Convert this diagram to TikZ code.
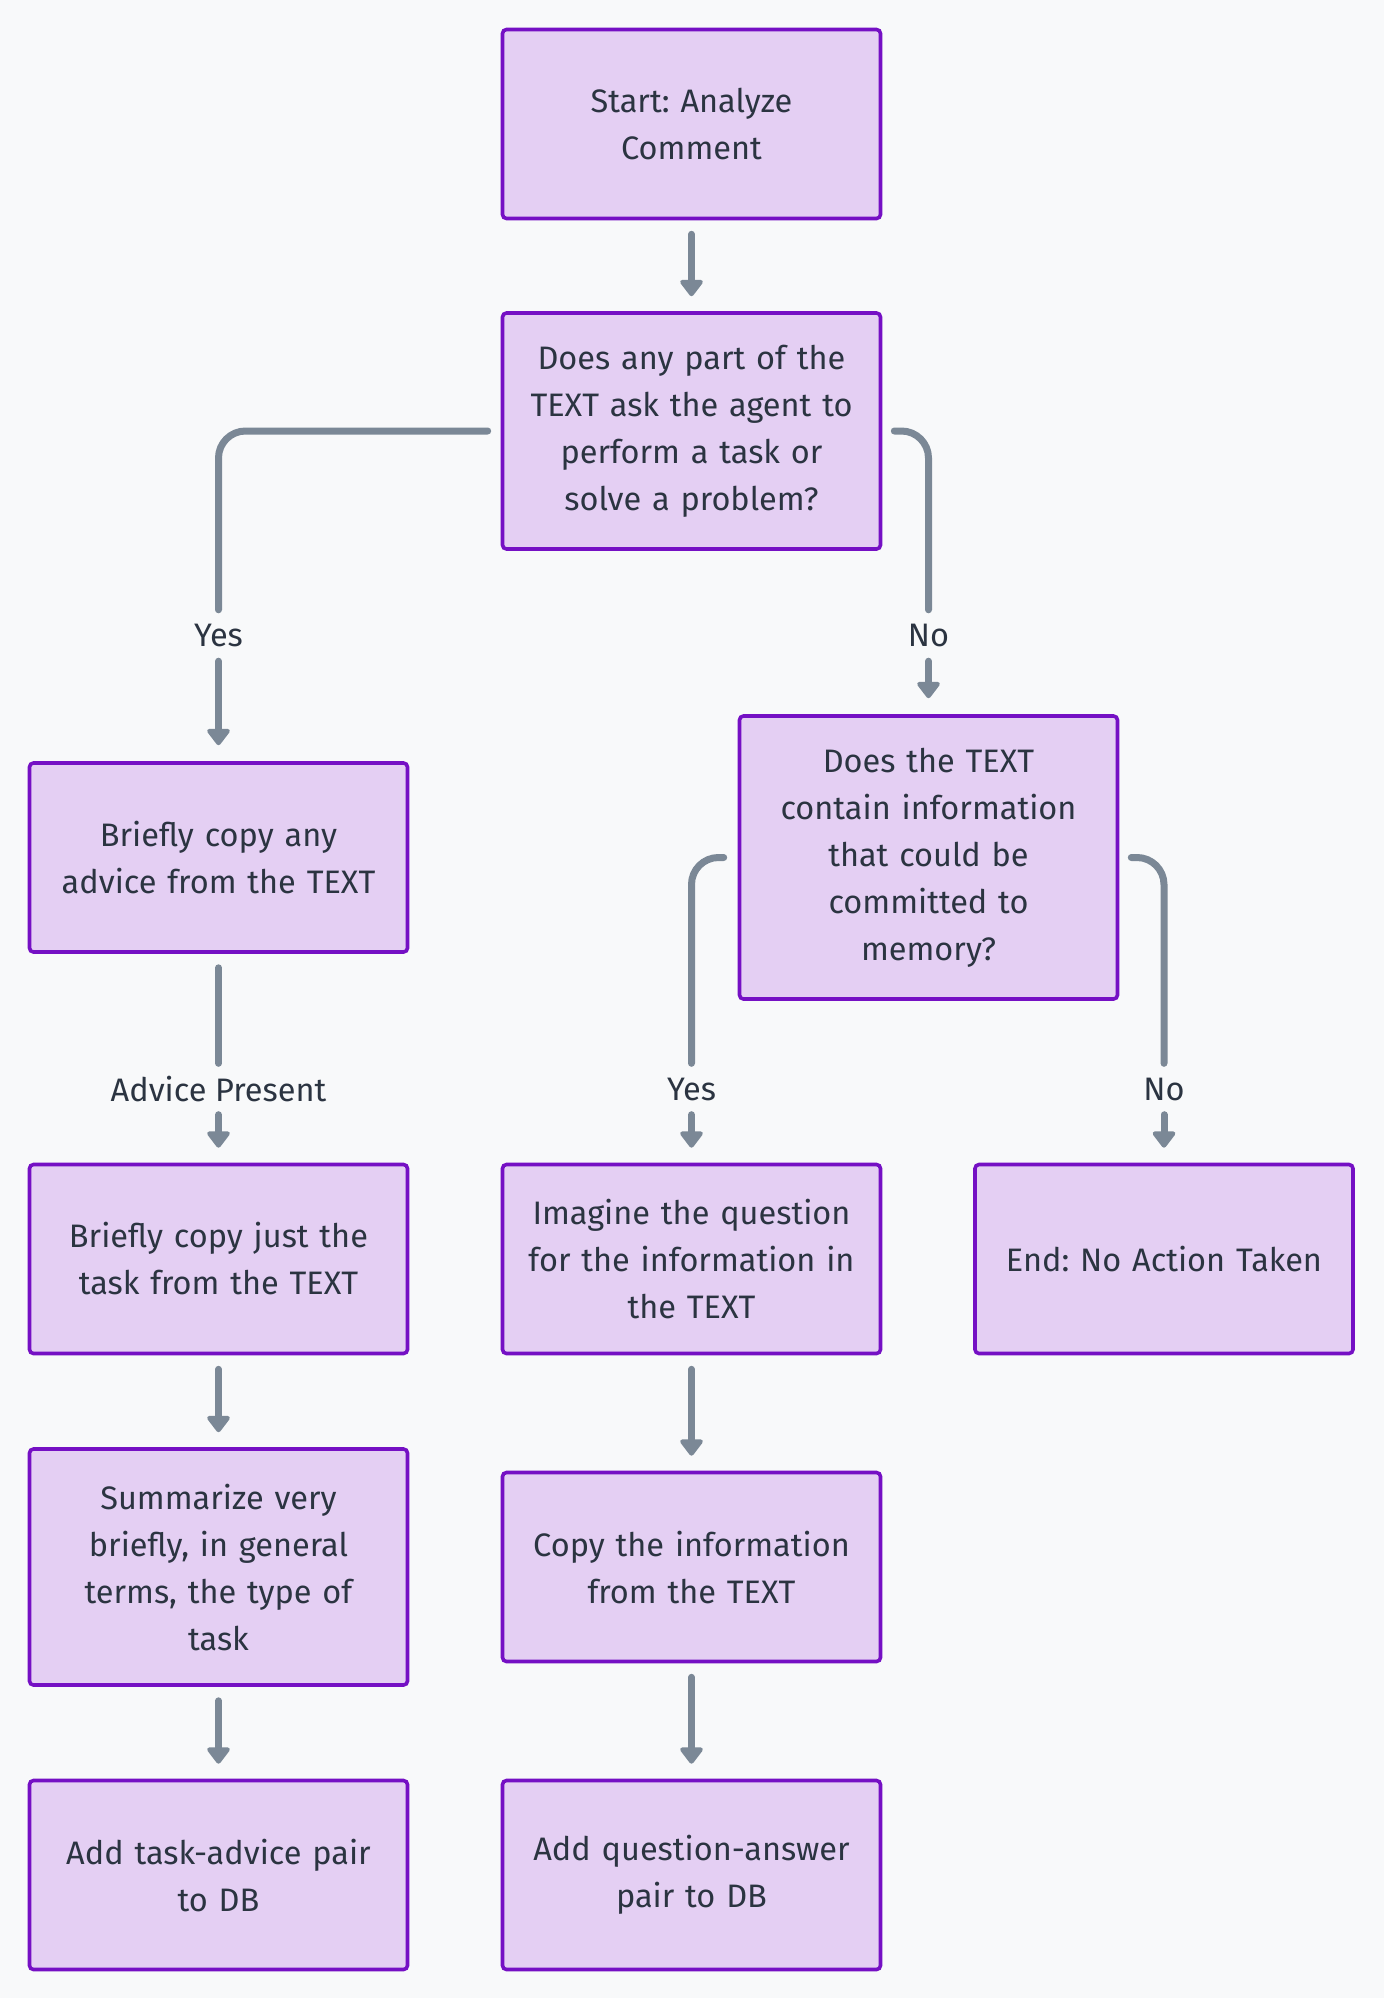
\documentclass[tikz,border=0pt]{standalone}
\usepackage{fontspec}
\setmainfont{Fira Sans}
\usetikzlibrary{arrows.meta}
\frenchspacing
\definecolor{bgc}{HTML}{F8F9FA}
\definecolor{boxf}{HTML}{E4CFF3}
\definecolor{boxd}{HTML}{7510C4}
\definecolor{linec}{HTML}{7B8896}
\definecolor{txtc}{HTML}{2B3441}
\begin{document}
\begin{tikzpicture}[x=1pt,y=-1pt,
  box/.style={draw=boxd, fill=boxf, line width=3.6pt, rounded corners=4pt,
    minimum width=378pt, minimum height=189pt, inner sep=0pt,
    text width=370pt, align=center, text=txtc,
    font=\fontsize{32.5}{47}\selectfont},
  lbl/.style={inner sep=0pt, minimum height=51pt, text=txtc,
    font=\fontsize{32.5}{47}\selectfont},
  conn/.style={draw=linec, line width=7pt, line cap=round, rounded corners=27pt},
  arr/.style={conn, -{Triangle[width=26pt,length=18pt,round]}}]
\fill[bgc] (0,0) rectangle (1384,1998);
\useasboundingbox (0,0) rectangle (1384,1998);

\node[box] (start) at (691.5,124) {Start: Analyze\\Comment};
\node[box, minimum height=236pt] (q1) at (691.5,431) {Does any part of the\\TEXT ask the agent to\\perform a task or\\solve a problem?};
\node[box] (adv) at (218.5,857.5) {Briefly copy any\\advice from the TEXT};
\node[box, minimum height=283pt] (q2) at (928.5,857.5) {Does the TEXT\\contain information\\that could be\\committed to\\memory?};
\node[box] (task) at (218.5,1259) {Briefly copy just the\\task from the TEXT};
\node[box] (imag) at (691.5,1259) {Imagine the question\\for the information in\\the TEXT};
\node[box] (end) at (1164,1259) {End: No Action Taken};
\node[box, minimum height=236pt] (summ) at (218.5,1567) {Summarize very\\briefly, in general\\terms, the type of\\task};
\node[box] (copy) at (691.5,1567) {Copy the information\\from the TEXT};
\node[box] (addt) at (218.5,1875) {Add task-advice pair\\to DB};
\node[box] (addq) at (691.5,1875) {Add question-answer\\pair to DB};

\node[lbl] (ly1) at (218.5,635.5) {Yes};
\node[lbl] (ln1) at (928.5,635.5) {No};
\node[lbl] (lap) at (218.5,1089) {Advice Present};
\node[lbl] (ly2) at (691.5,1089) {Yes};
\node[lbl] (ln2) at (1164,1089) {No};

\draw[arr, shorten <=14pt, shorten >=15pt] (start.south) -- (q1.north);

\draw[conn] ([xshift=-13pt]q1.west) -| (ly1.north);
\draw[arr, shorten >=16pt] (ly1.south) -- (adv.north);

\draw[conn] ([xshift=12pt]q1.east) -| (ln1.north);
\draw[arr, shorten >=16pt] (ln1.south) -- (q2.north);

\draw[conn, shorten <=14pt] (adv.south) -- (lap.north);
\draw[arr, shorten >=15pt] (lap.south) -- (task.north);

\draw[conn] ([xshift=-14pt]q2.west) -| (ly2.north);
\draw[arr, shorten >=15pt] (ly2.south) -- (imag.north);

\draw[conn] ([xshift=12pt]q2.east) -| (ln2.north);
\draw[arr, shorten >=15pt] (ln2.south) -- (end.north);

\draw[arr, shorten <=14pt, shorten >=15pt] (task.south) -- (summ.north);
\draw[arr, shorten <=14pt, shorten >=15pt] (summ.south) -- (addt.north);
\draw[arr, shorten <=14pt, shorten >=15pt] (imag.south) -- (copy.north);
\draw[arr, shorten <=14pt, shorten >=15pt] (copy.south) -- (addq.north);
\end{tikzpicture}
\end{document}
